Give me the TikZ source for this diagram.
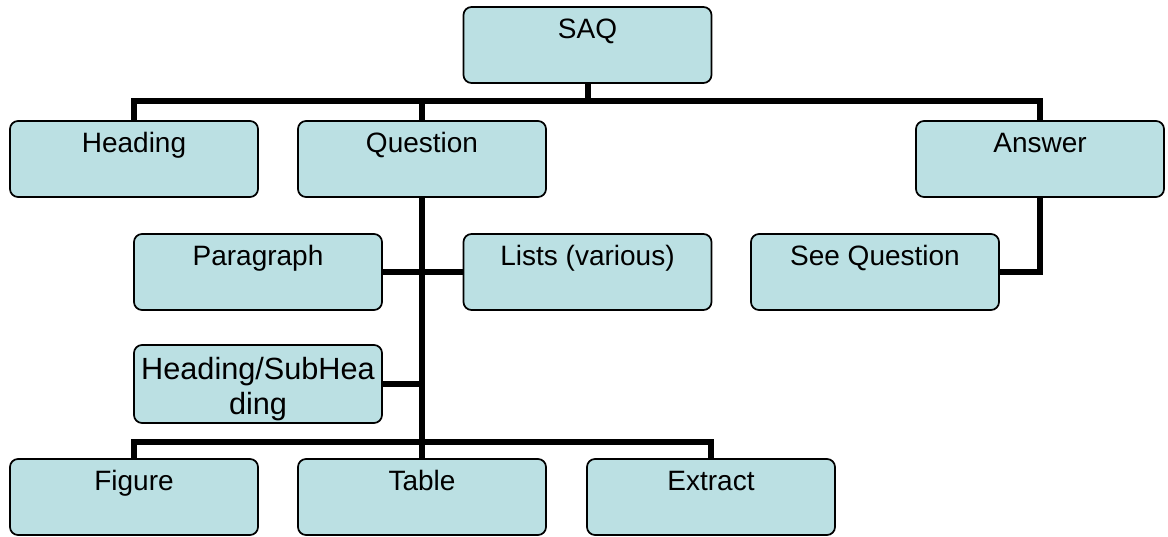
\documentclass[tikz,border=0pt]{standalone}
\usepackage{fontspec}
\setmainfont{Liberation Sans}
\definecolor{boxfill}{RGB}{187,224,227}
\tikzset{
  box/.style={draw=black, line width=1.3pt, fill=boxfill, rounded corners=6pt,
    inner sep=0pt, minimum width=186pt, text height=23.25pt, text depth=33.75pt,
    font=\fontsize{21}{24}\selectfont},
  link/.style={line width=4.5pt, black}
}
\begin{document}
\begin{tikzpicture}[x=0.75pt,y=-0.75pt]
\useasboundingbox (0,0) rectangle (1168,536);
% top level
\node [box] (saq) at (587.5,45) {SAQ};
\node [box] (heading) at (134,159) {Heading};
\node [box] (question) at (422,159) {Question};
\node [box] (answer) at (1040,159) {Answer};
% middle
\node [box] (paragraph) at (258,272) {Paragraph};
\node [box] (lists) at (587.5,272) {Lists (various)};
\node [box] (seeq) at (875,272) {See Question};
\node [box, align=center, text height=51.75pt, text depth=6.75pt,
  font=\fontsize{23}{26}\selectfont] (hsub) at (258,384) {Heading/SubHea\\ding};
% bottom
\node [box] (figure) at (134,497) {Figure};
\node [box] (table) at (422,497) {Table};
\node [box] (extract) at (711,497) {Extract};
% connectors
\draw [link] (saq.south) --++ (0,19);
\draw [link] (heading.north) --++ (0,-19) -| (answer.north);
\draw [link] (question.north) --++ (0,-19);
\draw [link] (question.south) -- (table.north);
\draw [link] (paragraph.east) -- (lists.west);
\draw [link] (hsub.east) -- (hsub.east -| question.south);
\draw [link] (figure.north) --++ (0,-16) -| (extract.north);
\draw [link] (answer.south) |- (seeq.east);
\end{tikzpicture}
\end{document}
